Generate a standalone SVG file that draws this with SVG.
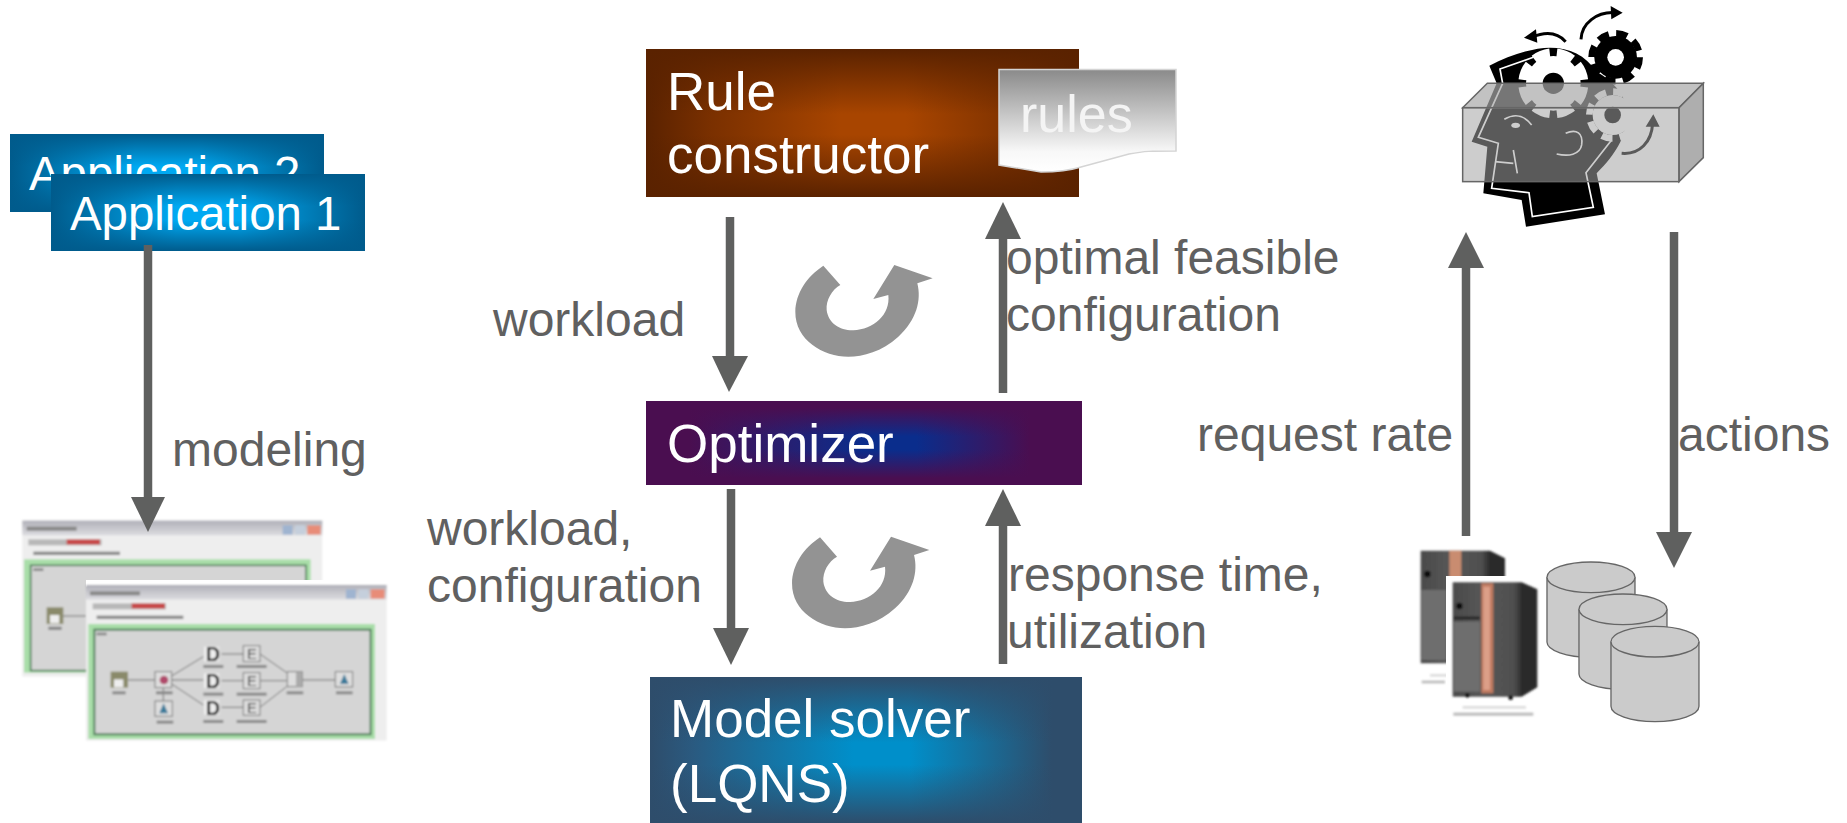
<svg xmlns="http://www.w3.org/2000/svg" xmlns:xlink="http://www.w3.org/1999/xlink" width="1847" height="823" viewBox="0 0 1847 823">
<style>
text{font-family:"Liberation Sans",Arial,sans-serif;font-size:48px}
.app{font-size:47.400px}
.big{font-size:53px}
.w{fill:#fff}.g{fill:#606060}
.shaft{stroke:#5f605f;stroke-width:8.500;fill:none}
.head{fill:#5f605f}
.cyl{fill:#cbcbcb;stroke:#666;stroke-width:4}
.ic{fill:#dedede;stroke:#777;stroke-width:3}
.wire{stroke:#555;stroke-width:2.500;fill:none}
.blob{fill:#888}
.wl{font-weight:bold;fill:#111}
.wlE{fill:#333}
</style>
<defs>
<linearGradient id="appH" x1="0" x2="1" y1="0" y2="0"><stop offset="0" stop-color="#005b8c"/><stop offset=".08" stop-color="#006a9f"/><stop offset=".4" stop-color="#00a9f2"/><stop offset=".6" stop-color="#00a9f2"/><stop offset=".92" stop-color="#006a9f"/><stop offset="1" stop-color="#005b8c"/></linearGradient>
<linearGradient id="appV" x1="0" x2="0" y1="0" y2="1"><stop offset="0" stop-color="#005b8c"/><stop offset=".42" stop-color="#005b8c" stop-opacity="0"/><stop offset=".6" stop-color="#005b8c" stop-opacity="0"/><stop offset="1" stop-color="#005b8c"/></linearGradient>
<linearGradient id="ruleH" x1="0" x2="1" y1="0" y2="0"><stop offset="0" stop-color="#5a2200"/><stop offset=".15" stop-color="#7a3000"/><stop offset=".45" stop-color="#a84500"/><stop offset=".6" stop-color="#a84500"/><stop offset=".88" stop-color="#7a3000"/><stop offset="1" stop-color="#5a2200"/></linearGradient>
<linearGradient id="ruleV" x1="0" x2="0" y1="0" y2="1"><stop offset="0" stop-color="#5a2200"/><stop offset=".44" stop-color="#5a2200" stop-opacity="0"/><stop offset=".58" stop-color="#5a2200" stop-opacity="0"/><stop offset="1" stop-color="#5a2200"/></linearGradient>
<linearGradient id="optH" x1="0" x2="1" y1="0" y2="0"><stop offset="0" stop-color="#4a0e50"/><stop offset=".1" stop-color="#4a0e50"/><stop offset=".5" stop-color="#0a2d8c"/><stop offset=".62" stop-color="#0a2d8c"/><stop offset=".88" stop-color="#4a0e50"/><stop offset="1" stop-color="#4a0e50"/></linearGradient>
<linearGradient id="optV" x1="0" x2="0" y1="0" y2="1"><stop offset="0" stop-color="#4a0e50"/><stop offset=".08" stop-color="#4a0e50"/><stop offset=".42" stop-color="#4a0e50" stop-opacity="0"/><stop offset=".58" stop-color="#4a0e50" stop-opacity="0"/><stop offset=".92" stop-color="#4a0e50"/><stop offset="1" stop-color="#4a0e50"/></linearGradient>
<linearGradient id="solH" x1="0" x2="1" y1="0" y2="0"><stop offset="0" stop-color="#2e4d6b"/><stop offset=".1" stop-color="#2a5a80"/><stop offset=".47" stop-color="#008fca"/><stop offset=".6" stop-color="#008fca"/><stop offset=".93" stop-color="#2e4d6b"/><stop offset="1" stop-color="#2e4d6b"/></linearGradient>
<linearGradient id="solV" x1="0" x2="0" y1="0" y2="1"><stop offset="0" stop-color="#2e4d6b"/><stop offset=".45" stop-color="#2e4d6b" stop-opacity="0"/><stop offset=".6" stop-color="#2e4d6b" stop-opacity="0"/><stop offset="1" stop-color="#2e4d6b"/></linearGradient>
<linearGradient id="doc" x1="0" x2="0" y1="0" y2="1"><stop offset="0" stop-color="#8a8a8a"/><stop offset=".8" stop-color="#f8f8f8"/><stop offset="1" stop-color="#fff"/></linearGradient>
<linearGradient id="title" x1="0" x2="0" y1="0" y2="1"><stop offset="0" stop-color="#b0b0b8"/><stop offset="1" stop-color="#dcdce0"/></linearGradient>
<linearGradient id="srv" x1="0" x2="1" y1="0" y2="0"><stop offset="0" stop-color="#4a4a4a"/><stop offset=".3" stop-color="#555"/><stop offset=".72" stop-color="#505050"/><stop offset=".82" stop-color="#2c2c2c"/><stop offset="1" stop-color="#2a2a2a"/></linearGradient>
<filter id="soft" x="-5%" y="-5%" width="110%" height="110%"><feGaussianBlur stdDeviation="3"/></filter>
<path id="swirl" d="M190 77 L241 135 C215 150 198 180 200 210 C205 250 240 272 280 271 C340 268 392 225 385 165 L340 177 L403 75 L518 115 L472 130 C485 180 470 240 415 290 C365 335 310 350 265 350 C190 350 105 300 106 215 C107 160 140 110 190 77Z" fill="#939393"/>
</defs>

<g id="application-2">
<rect x="10" y="134" width="314" height="78" fill="url(#appH)"/><rect x="10" y="134" width="314" height="78" fill="url(#appV)"/>
<text class="w app" x="29" y="190">Application 2</text>
</g>
<g id="application-1">
<rect x="51" y="174" width="314" height="77" fill="url(#appH)"/><rect x="51" y="174" width="314" height="77" fill="url(#appV)"/>
<text class="w app" x="70" y="230">Application 1</text>
</g>

<g id="rule-constructor">
<rect x="646" y="49" width="433" height="148" fill="url(#ruleH)"/><rect x="646" y="49" width="433" height="148" fill="url(#ruleV)"/>
<text class="w big" x="667" y="110">Rule</text>
<text class="w big" x="667" y="173">constructor</text>
</g>
<g id="rules">
<path d="M999 69.500H1176V151C1150 151 1145 151 1129 154L1081 167C1068 171 1054 172 1041 172L999 165Z" fill="url(#doc)" stroke="#d4d4d4" stroke-width="1.500"/>
<text x="1020" y="132" fill="#f4f4f4" style="font-size:52px">rules</text>
</g>

<g id="optimizer">
<rect x="646" y="401" width="436" height="84" fill="url(#optH)"/><rect x="646" y="401" width="436" height="84" fill="url(#optV)"/>
<text class="w big" x="667" y="462">Optimizer</text>
</g>

<g id="model-solver">
<rect x="650" y="677" width="432" height="146" fill="url(#solH)"/><rect x="650" y="677" width="432" height="146" fill="url(#solV)"/>
<text class="w big" x="670" y="737">Model solver</text>
<text class="w big" x="670" y="802">(LQNS)</text>
</g>

<g id="swirl-top" transform="translate(760 240) scale(.3333)"><use xlink:href="#swirl" href="#swirl"/></g>
<g id="swirl-bottom" transform="translate(756.700 511.700) scale(.3333)"><use xlink:href="#swirl" href="#swirl"/></g>

<g id="model-windows" transform="translate(0 500) scale(.3333)">
<g filter="url(#soft)">
<rect x="67" y="62" width="900" height="468" fill="#eee"/>
<rect x="67" y="62" width="900" height="44" fill="url(#title)"/>
<rect x="80" y="80" width="150" height="12" class="blob"/>
<rect x="848" y="76" width="30" height="28" fill="#9fb4d0"/><rect x="885" y="76" width="30" height="28" fill="#c5cfdc"/><rect x="922" y="76" width="40" height="28" fill="#e88c78"/>
<rect x="85" y="118" width="220" height="18" fill="#b8b8b8"/>
<rect x="200" y="118" width="100" height="16" fill="#c84a4a"/>
<rect x="72" y="146" width="890" height="30" fill="#eee"/>
<rect x="100" y="155" width="260" height="10" class="blob"/>
<rect x="72" y="178" width="860" height="340" fill="#a9dea9"/>
<rect x="92" y="196" width="826" height="316" fill="#d5d5d5" stroke="#4f7f5a" stroke-width="5"/>
<rect x="140" y="322" width="50" height="50" fill="#8a8a6a"/>
<rect x="150" y="345" width="28" height="25" fill="#eee"/>
<path d="M190 348H260" class="wire"/>
<rect x="145" y="380" width="40" height="10" class="blob"/>
<rect x="100" y="205" width="30" height="8" class="blob"/>
</g>
<rect x="258" y="240" width="903" height="20" fill="#fff"/>
<g filter="url(#soft)">
<rect x="258" y="255" width="902" height="467" fill="#eee"/>
<rect x="258" y="255" width="902" height="44" fill="url(#title)"/>
<rect x="270" y="274" width="150" height="12" class="blob"/>
<rect x="1038" y="268" width="30" height="28" fill="#9fb4d0"/><rect x="1075" y="268" width="30" height="28" fill="#c5cfdc"/><rect x="1112" y="268" width="42" height="28" fill="#e88c78"/>
<rect x="278" y="310" width="220" height="18" fill="#b8b8b8"/>
<rect x="395" y="310" width="100" height="16" fill="#c84a4a"/>
<rect x="262" y="338" width="890" height="30" fill="#eee"/>
<rect x="290" y="347" width="260" height="10" class="blob"/>
<rect x="265" y="372" width="860" height="345" fill="#a9dea9"/>
<rect x="283" y="389" width="829" height="314" fill="#d5d5d5" stroke="#4f7f5a" stroke-width="6"/>
<rect x="290" y="398" width="30" height="8" class="blob"/>
<path d="M385 540H465M515 540H610M515 528L610 470M515 552L610 615M665 462H730M665 542H730M665 622H730M780 462L860 518M780 542H860M780 622L860 560M905 540H1005M490 565V605" class="wire"/>
<rect x="332" y="515" width="52" height="48" fill="#8a8a6a"/><rect x="342" y="538" width="28" height="24" fill="#eee"/>
<rect x="465" y="515" width="50" height="48" class="ic"/><circle cx="492" cy="540" r="13" fill="#b04a6a"/>
<rect x="465" y="603" width="52" height="46" class="ic"/><path d="M478 640L491 610L504 640Z" fill="#3a7a9a"/>
<rect x="730" y="437" width="50" height="48" class="ic"/><rect x="730" y="518" width="50" height="48" class="ic"/><rect x="730" y="600" width="50" height="46" class="ic"/>
<rect x="862" y="515" width="45" height="45" class="ic"/><rect x="888" y="515" width="19" height="45" fill="#aaa"/>
<rect x="1006" y="515" width="52" height="46" class="ic"/><path d="M1020 552L1033 522L1046 552Z" fill="#3a7a9a"/>
<rect x="337" y="574" width="40" height="9" class="blob"/><rect x="468" y="574" width="50" height="9" class="blob"/><rect x="470" y="662" width="50" height="9" class="blob"/>
<rect x="610" y="495" width="60" height="9" class="blob"/><rect x="610" y="578" width="60" height="9" class="blob"/><rect x="610" y="660" width="60" height="9" class="blob"/>
<rect x="710" y="495" width="90" height="9" class="blob"/><rect x="710" y="578" width="90" height="9" class="blob"/><rect x="710" y="660" width="90" height="9" class="blob"/>
<rect x="860" y="574" width="50" height="9" class="blob"/><rect x="1008" y="574" width="50" height="9" class="blob"/>
<rect x="612" y="440" width="46" height="44" fill="#eee"/><rect x="612" y="520" width="46" height="44" fill="#eee"/><rect x="612" y="600" width="46" height="44" fill="#eee"/>
<text class="wl" x="618" y="484" style="font-size:58px">D</text><text class="wl" x="618" y="564" style="font-size:58px">D</text><text class="wl" x="618" y="644" style="font-size:58px">D</text>
<text class="wlE" x="741" y="477" style="font-size:44px">E</text><text class="wlE" x="741" y="558" style="font-size:44px">E</text><text class="wlE" x="741" y="639" style="font-size:44px">E</text>
</g>
</g>

<g id="head-box" transform="translate(1400 0) scale(.3333)">
<path d="M268 197C330 165 400 143 450 143C510 143 555 165 590 215C650 250 690 300 680 360C675 410 650 460 590 520L615 643L378 680L365 600L250 580L262 440L215 425L290 250Z" fill="#000"/>
<circle cx="460" cy="250" r="82" fill="#fff"/>
<circle cx="460" cy="250" r="92" fill="none" stroke="#fff" stroke-width="26" pathLength="16" stroke-dasharray="1.400 .6" stroke-dashoffset="1.700"/>
<circle cx="460" cy="250" r="32" fill="#000"/>
<circle cx="638" cy="345" r="60" fill="#fff"/>
<circle cx="638" cy="345" r="70" fill="none" stroke="#fff" stroke-width="20" pathLength="16" stroke-dasharray="1.200 .8"/>
<circle cx="638" cy="345" r="25" fill="#000"/>
<circle cx="647" cy="172" r="64" fill="#000"/>
<circle cx="647" cy="172" r="72" fill="none" stroke="#000" stroke-width="20" pathLength="16" stroke-dasharray="1.200 .8"/>
<circle cx="647" cy="172" r="25" fill="#fff"/>
<path d="M400 172L300 207L308 250L235 412L295 430L275 565L387 578L397 650L580 622L558 518L635 420" fill="none" stroke="#fff" stroke-width="5"/>
<path d="M285 485L340 490M340 450L352 520" fill="none" stroke="#fff" stroke-width="5"/>
<path d="M313 358Q360 330 395 375" fill="none" stroke="#fff" stroke-width="5"/>
<ellipse cx="347" cy="376" rx="13" ry="8" fill="#fff"/>
<path d="M497 400C530 385 550 400 545 435C540 465 505 470 470 462" fill="none" stroke="#fff" stroke-width="5"/>
<g fill="none" stroke="#000" stroke-width="9">
<path d="M497 125C470 95 435 95 395 112"/>
<path d="M543 118C545 70 590 35 645 38"/>
<path d="M665 460C720 465 755 425 758 370"/>
</g>
<path d="M372 113L408 88L412 128Z M668 38L632 18L634 58Z M760 343L737 380L779 380Z" fill="#000"/>
<path d="M262 250H910L837 323H188Z" fill="#a8a8a8" fill-opacity=".7" stroke="#666" stroke-width="4.500"/>
<path d="M837 323L910 250V473L837 545Z" fill="#8c8c8c" fill-opacity=".7" stroke="#666" stroke-width="4.500"/>
<rect x="188" y="323" width="649" height="222" fill="#a4a4a4" fill-opacity=".55" stroke="#666" stroke-width="4.500"/>
</g>

<g id="servers" transform="translate(1390 530) scale(.3333)">
<g filter="url(#soft)">
<path d="M92 62H300L345 85V380L300 400H92Z" fill="url(#srv)"/>
<rect x="178" y="62" width="36" height="330" fill="#c98c70"/>
<rect x="95" y="180" width="75" height="210" fill="#6e6e6e"/>
<circle cx="112" cy="132" r="10" fill="#111"/>
<rect x="120" y="432" width="60" height="8" fill="#ddd"/>
<rect x="95" y="452" width="70" height="8" fill="#bbb"/>
</g>
<rect x="168" y="138" width="290" height="450" fill="#fff"/>
<g filter="url(#soft)">
<path d="M188 157H395L442 178V472L395 500H188Z" fill="url(#srv)"/>
<rect x="274" y="160" width="36" height="330" fill="#c07a60"/>
<rect x="280" y="170" width="20" height="310" fill="#dc9f88"/>
<rect x="192" y="275" width="78" height="210" fill="#6e6e6e"/>
<rect x="192" y="260" width="78" height="8" fill="#222"/>
<circle cx="208" cy="228" r="10" fill="#111"/>
<circle cx="232" cy="496" r="7" fill="#111"/><circle cx="362" cy="503" r="7" fill="#111"/>
<rect x="218" y="528" width="190" height="8" fill="#ddd"/>
<rect x="190" y="548" width="240" height="9" fill="#bbb"/>
</g>
</g>
<g id="disks" transform="translate(1390 530) scale(.3333)">
<path class="cyl" d="M471 142A132 46 0 0 1 735 142V336A132 46 0 0 1 471 336Z"/><path class="cyl" d="M471 142A132 46 0 0 0 735 142"/>
<path class="cyl" d="M567 238A132 46 0 0 1 831 238V432A132 46 0 0 1 567 432Z"/><path class="cyl" d="M567 238A132 46 0 0 0 831 238"/>
<path class="cyl" d="M663 335A132 46 0 0 1 927 335V529A132 46 0 0 1 663 529Z"/><path class="cyl" d="M663 335A132 46 0 0 0 927 335"/>
</g>

<g id="connectors">
<path class="shaft" d="M148 245V500"/><path class="head" d="M131 497H165L148 532Z"/>
<path class="shaft" d="M730 217V360"/><path class="head" d="M712 356H748L729 392Z"/>
<path class="shaft" d="M1003 393V236"/><path class="head" d="M985 239H1021L1003 202Z"/>
<path class="shaft" d="M731 489V632"/><path class="head" d="M713 628H749L731 665Z"/>
<path class="shaft" d="M1003 664V525"/><path class="head" d="M985 526H1021L1003 489Z"/>
<path class="shaft" d="M1466 536V266"/><path class="head" d="M1448 268H1484L1466 232Z"/>
<path class="shaft" d="M1674 232V535"/><path class="head" d="M1656 532H1692L1674 568Z"/>
</g>

<g id="labels">
<text class="g" x="493" y="336">workload</text>
<text class="g" x="1006" y="274">optimal feasible</text>
<text class="g" x="1006" y="331">configuration</text>
<text class="g" x="172" y="466">modeling</text>
<text class="g" x="427" y="545">workload,</text>
<text class="g" x="427" y="602">configuration</text>
<text class="g" x="1008" y="591">response time,</text>
<text class="g" x="1007" y="648">utilization</text>
<text class="g" x="1197" y="451">request rate</text>
<text class="g" x="1678" y="451">actions</text>
</g>
</svg>
